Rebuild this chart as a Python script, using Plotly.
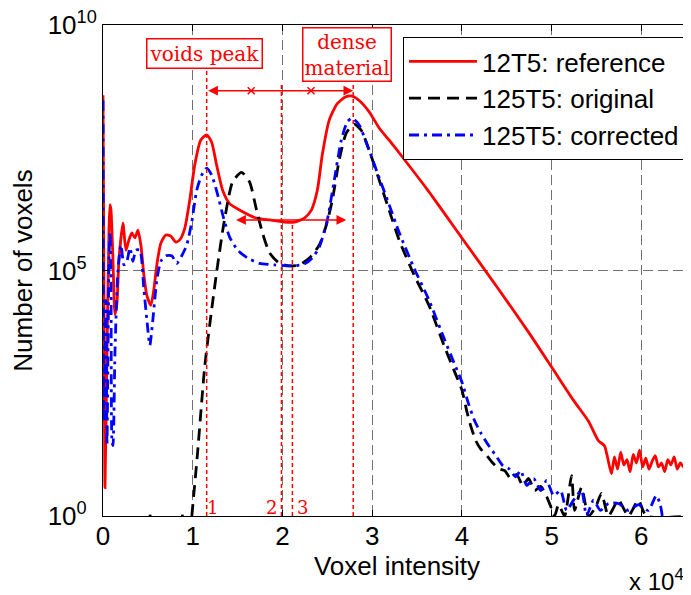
import math
import plotly.graph_objects as go

# ---------------- data ----------------
# 12T5: reference
ref_intensity = [0, 111, 222, 444, 667, 778, 889, 1111, 1333, 1556, 1778, 2222, 2556, 2889,
                 3222, 3556, 3889, 4222, 4556, 4889, 5333, 5667, 6000, 6444, 7000, 7556,
                 8111, 8556, 9111, 9667, 10222, 10889, 11556, 12111, 12667, 13333, 14111,
                 15222, 16889, 18556, 20222, 21333, 22444, 23222, 23889, 24444, 25222,
                 26111, 27000, 27667, 28556, 29667, 30778, 31889, 33000, 36333, 40000,
                 44111, 47444, 50000, 52444, 54111, 55222, 55889, 56667,
                 57000, 57350, 57700, 58050, 58400, 58750, 59100, 59450, 59800, 60150,
                 60500, 60850, 61200, 61550, 61900, 62250, 62600, 62950, 63300, 63650,
                 64000, 64350, 64700, 65050, 65450]
ref_counts = [3.7e8, 2.5e4, 3.8, 2.2e3, 6.6e5, 2.2e6, 1.7e6, 1.66e5, 1.26e4, 2.2e4, 1.66e5,
              9.2e5, 2.6e5, 4.2e5, 5.8e5, 4.6e5, 6.6e5, 3.3e5, 8.1e4, 3.1e4, 1.95e4, 4.1e4,
              1.3e5, 3.6e5, 5.3e5, 5.0e5, 3.8e5, 4.2e5, 7.2e5, 2.7e6, 1.4e7, 4.5e7, 5.8e7,
              4.1e7, 1.4e7, 4.3e6, 2.3e6, 1.7e6, 1.2e6, 1.07e6, 9.7e5, 9.7e5, 1.17e6, 1.7e6,
              4.3e6, 2.3e7, 1.17e8, 2.5e8, 3.4e8, 3.6e8, 2.9e8, 1.7e8, 8.0e7, 4.5e7, 2.5e7,
              4.0e6, 4.6e5, 4.1e4, 5.5e3, 1.08e3, 226, 85, 34, 27, 7.3,
              16, 9, 20, 11, 14, 8, 18, 12, 22, 10, 15, 9, 13, 17, 10, 12, 8, 14, 11,
              16, 9, 12, 10, 13, 28]

# 125T5: original (None = empty bins, not drawn on the log axis)
orig_intensity = [5100, 5400, None, 8700, 9000, None, 9900, 10556, 11333, 12111, 12778,
                  13444, 14444, 15444, 16333, 17111, 17778, 18556, 19667, 20778, 21889,
                  23000, 24111, 24889, 25556, 26333, 27111, 28000, 28778, 29667, 30778,
                  31889, 33000, 34667, 36333, 38000, 39111, 40000, 40556, 41000, 41556,
                  42111, 42778, 43444, 44111, 44778, 45444, 46111, 46778, 47444, 48111,
                  48778, 49444, 50000, 50333, 50778, 51444, 52222, 52556, 53333, 54111,
                  54889, 55556, 56333, 57444, 58556, 59667, 60556, 65535]
orig_counts = [1, 1, None, 1, 1, None, 1, 21, 1.08e3, 1.6e4, 1.3e5, 8.4e5, 6.4e6, 1.0e7,
               6.4e6, 1.7e6, 5.8e5, 2.3e5, 1.4e5, 1.24e5, 1.3e5, 1.8e5, 3.3e5, 8.4e5,
               2.7e6, 1.8e7, 6.3e7, 9.6e7, 7.2e7, 2.8e7, 7.0e6, 1.7e6, 4.2e5, 8.1e4, 1.95e4,
               3.0e3, 935, 370, 134, 67, 34, 23, 17, 12, 9.2, 8.4, 5.8, 7.0, 4.2, 5.8, 3.3,
               4.0, 2.5, 1.4, 1, 1.7, 1, 6.6, 1.3, 3.8, 1, 1.5, 2.9, 1, 2.1, 1, 2.1, 1, 1]

# 125T5: corrected
corr_intensity = [0, 111, 333, 444, 667, 778, 889, 1000, 1111, 1333, 1667, 2000, 2333, 2667,
                  3000, 3333, 3667, 4111, 4556, 4889, 5222, 5556, 6000, 6444, 7000, 7667,
                  8222, 8778, 9333, 9889, 10444, 11000, 11556, 12111, 12778, 13444, 14111,
                  15000, 16111, 17444, 19111, 21111, 22444, 23333, 24111, 25000, 25778,
                  26556, 27222, 27778, 28556, 29444, 30556, 31889, 33000, 34667, 36333,
                  38000, 39111, 40000, 40778, 41444, 42111, 43000, 43778, 44556, 45222,
                  46000, 46556, 47222, 48000, 48778, 49444, 50222, 51000, 51667, 52444,
                  53333, 53889, 54667, 55444, 56333, 57444, 58556, 59667, 60778, 61667,
                  62111, 62333]
corr_counts = [2.9e8, 85, 2.5e4, 27, 1.66e5, 6.0e5, 6.4e4, 34, 27, 2.2e3, 1.02e5, 3.3e5,
               1.3e5, 1.54e5, 2.9e5, 1.54e5, 2.6e5, 2.6e5, 4.1e4, 9.9e3, 3.0e3, 9.9e3, 6.4e4,
               1.54e5, 2.0e5, 2.0e5, 1.4e5, 2.0e5, 3.3e5, 9.7e5, 4.3e6, 8.8e6, 1.22e7, 8.8e6,
               3.5e6, 1.17e6, 4.8e5, 2.6e5, 1.8e5, 1.4e5, 1.3e5, 1.24e5, 1.36e5, 1.8e5, 3.0e5,
               1.07e6, 7.0e6, 4.5e7, 1.06e8, 1.27e8, 9.2e7, 3.6e7, 1.0e7, 2.2e6, 6.0e5,
               1.12e5, 2.5e4, 4.2e3, 1.33e3, 535, 183, 85, 49, 27, 17, 10.6, 9.2, 6.3, 8.4,
               4.2, 5.8, 3.3, 5.3, 2.6, 3.3, 1.3, 2.1, 3.3, 1, 2.1, 1.3, 1.8, 1.8, 1.3, 1.7,
               1.3, 2.6, 1.7, 1]

x_tick_vals = [0, 10000, 20000, 30000, 40000, 50000, 60000]
x_tick_text = ["0", "1", "2", "3", "4", "5", "6"]
y_tick_vals = [1, 1e5, 1e10]
y_tick_text = ["10<sup>0&nbsp;&nbsp;</sup>", "10<sup>5&nbsp;&nbsp;</sup>",
               "10<sup>10</sup>"]

# annotation positions (intensity / counts)
line1_x, line1_top = 11556, 1.2e9      # voids peak
line2_x, line2_top = 19889, 6.0e8      # mid point
line3_x, line3_top = 21111, 9.7e5      # reference minimum
line4_x, line4_top = 27889, 6.6e8      # dense material peak
arrow1_y = 4.6e8
arrow1_marks = [16519, 23185]
arrow2_y, arrow2_x0, arrow2_x1 = 1.07e6, 14667, 27111

RED = "#ff0000"
SANS = "Liberation Sans, Arial, sans-serif"
SERIF = "DejaVu Serif, serif"

fig = go.Figure()

fig.add_trace(go.Scatter(x=ref_intensity, y=ref_counts, mode="lines",
                         name="12T5: reference",
                         line=dict(color=RED, width=2.8, shape="spline", smoothing=0.6)))
fig.add_trace(go.Scatter(x=orig_intensity, y=orig_counts, mode="lines",
                         name="125T5: original", connectgaps=False,
                         line=dict(color="black", width=2.8, dash="12px,7px",
                                   shape="spline", smoothing=0.6)))
fig.add_trace(go.Scatter(x=corr_intensity, y=corr_counts, mode="lines",
                         name="125T5: corrected",
                         line=dict(color="#0000ff", width=2.8, dash="10px,5px,3px,5px",
                                   shape="spline", smoothing=0.6)))

# red dotted marker lines
for lx, ltop in [(line1_x, line1_top), (line2_x, line2_top),
                 (line3_x, line3_top), (line4_x, line4_top)]:
    fig.add_trace(go.Scatter(x=[lx, lx], y=[1, ltop], mode="lines", showlegend=False,
                             hoverinfo="skip",
                             line=dict(color=RED, width=1.5, dash="4px,3px")))

# x marks on the top arrow
fig.add_trace(go.Scatter(x=arrow1_marks, y=[arrow1_y] * len(arrow1_marks), mode="markers",
                         showlegend=False, hoverinfo="skip",
                         marker=dict(symbol="x-thin", size=7,
                                     line=dict(color=RED, width=1.5), color=RED)))

annotations = []
# double arrows (annotations use log10 on log axes)
for x0, x1, yv in [(line1_x, line4_x, arrow1_y), (arrow2_x0, arrow2_x1, arrow2_y)]:
    annotations.append(dict(x=x1, y=math.log10(yv), ax=x0, ay=math.log10(yv),
                            xref="x", yref="y", axref="x", ayref="y", text="",
                            showarrow=True, arrowhead=2, arrowside="end+start",
                            arrowsize=1.3, arrowwidth=1.5, arrowcolor=RED,
                            standoff=0, startstandoff=0))

annotations.append(dict(x=11333, y=9.41, xref="x", yref="y", text="voids peak",
                        showarrow=False, font=dict(family=SERIF, size=20, color=RED),
                        bordercolor=RED, borderwidth=1.5, borderpad=2, bgcolor="white"))
annotations.append(dict(x=27222, y=9.39, xref="x", yref="y", text="dense<br>material",
                        showarrow=False, font=dict(family=SERIF, size=20, color=RED),
                        bordercolor=RED, borderwidth=1.5, borderpad=1, bgcolor="white"))

for txt, tx in [("1", 12222), ("2", 18778), ("3", 22222)]:
    annotations.append(dict(x=tx, y=0.17, xref="x", yref="y", text=txt, showarrow=False,
                            font=dict(family=SERIF, size=18, color=RED)))

annotations.append(dict(x=0.992, y=-0.130, xref="paper", yref="paper", xanchor="right",
                        yanchor="middle", text="x 10<sup>4</sup>", showarrow=False,
                        font=dict(family=SANS, size=24, color="black")))

# the page body adds an 8 px margin, so the figure is 8 px smaller than the window
fig.update_layout(
    width=683, height=587,
    margin=dict(l=95, r=0, t=17, b=79),
    plot_bgcolor="white", paper_bgcolor="white",
    font=dict(family=SANS, size=26, color="black"),
    annotations=annotations,
    legend=dict(x=(403 - 103) / 588, y=(516 - 37) / 491, xanchor="left", yanchor="top",
                bordercolor="black", borderwidth=1, bgcolor="white",
                font=dict(family=SANS, size=26, color="black"), itemwidth=68,
                tracegroupgap=0),
    xaxis=dict(range=[0, 65535], tickvals=x_tick_vals, ticktext=x_tick_text,
               showline=True, linecolor="black", linewidth=1, mirror="ticks",
               ticks="inside", ticklen=6, tickcolor="black",
               tickfont=dict(size=26), ticklabelstandoff=-3,
               showgrid=True, gridcolor="#707070", gridwidth=1, griddash="10px,5px",
               zeroline=False,
               title=dict(text="Voxel intensity", standoff=0, font=dict(size=26))),
    yaxis=dict(type="log", range=[0, 10], tickvals=y_tick_vals, ticktext=y_tick_text,
               showline=True, linecolor="black", linewidth=1, mirror="ticks",
               ticks="inside", ticklen=6, tickcolor="black",
               tickfont=dict(size=26), ticklabeloverflow="allow",
               showgrid=True, gridcolor="#707070", gridwidth=1, griddash="10px,5px",
               zeroline=False,
               title=dict(text="Number of voxels", standoff=15, font=dict(size=26))),
)

fig.write_html("out.html")
